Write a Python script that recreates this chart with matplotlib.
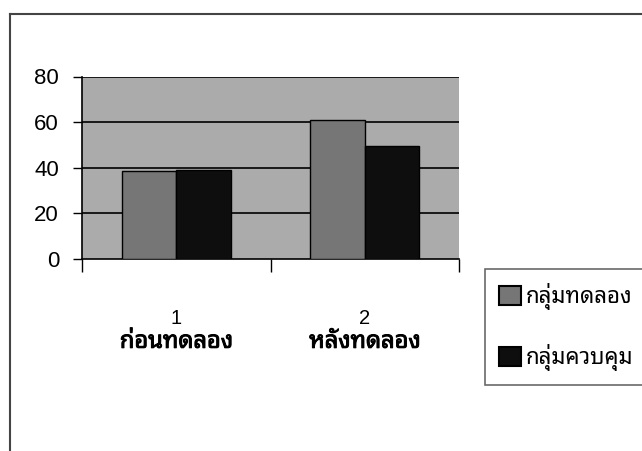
import matplotlib
matplotlib.use("Agg")
import numpy as np
import matplotlib.pyplot as plt
import matplotlib.patheffects as pe
from matplotlib.lines import Line2D
from matplotlib.patches import Patch

# data
categories = ["1", "2"]
category_names = ["ก่อนทดลอง", "หลังทดลอง"]
series_names = ["กลุ่มทดลอง", "กลุ่มควบคุม"]
experiment = [38.5, 61]
control = [39, 49.5]
yticks = [0, 20, 40, 60, 80]

plt.rcParams['font.family'] = ['Liberation Sans', 'Noto Sans Thai Looped', 'DejaVu Sans']

fig = plt.figure(figsize=(6.42, 4.51), dpi=100)
fig.patch.set_facecolor("white")
ax = fig.add_axes([82/642, 1 - 259/451, (459 - 82)/642, (259 - 76.5)/451])
ax.set_facecolor("#ababab")

x = np.arange(len(categories))
w = 0.29
ax.bar(x - w/2, experiment, w, color="#767676", edgecolor="black", linewidth=1, zorder=3)
ax.bar(x + w/2, control, w, color="#0e0e0e", edgecolor="black", linewidth=1, zorder=3)

ax.set_xlim(-0.5, 1.5)
ax.set_ylim(0, 80)
ax.set_yticks(yticks)
ax.tick_params(axis="y", direction="out", length=6.5, width=1, pad=10, labelsize=16)
for v in yticks[1:]:
    ax.axhline(v, color="black", lw=1.2, zorder=2)

# category boundary ticks below the axis
ax.set_xticks([-0.5, 0.5, 1.5])
ax.set_xticklabels([])
ax.tick_params(axis="x", direction="out", length=9, width=1)
for i in range(len(categories)):
    ax.annotate(categories[i], xy=(x[i], 0), xycoords=("data", "axes fraction"),
                xytext=(0, -36), textcoords="offset points", ha="center", va="top",
                fontsize=14.5)
    ax.annotate(category_names[i], xy=(x[i], 0), xycoords=("data", "axes fraction"),
                xytext=(0, -51), textcoords="offset points", ha="center", va="top",
                fontsize=17, fontweight="bold",
                path_effects=[pe.withStroke(linewidth=0.7, foreground="black")])

ax.spines["right"].set_visible(False)
ax.spines["top"].set_visible(False)
ax.spines["left"].set_linewidth(1.2)
ax.spines["bottom"].set_linewidth(1.2)

# outer chart frame (clipped at right and bottom in the scan)
fig.add_artist(Line2D([10/642, 1.0], [1 - 14/451, 1 - 14/451], color="#444444", lw=1.5))
fig.add_artist(Line2D([10/642, 10/642], [0.0, 1 - 14/451], color="#444444", lw=1.5))

handles = [Patch(facecolor="#767676", edgecolor="black", linewidth=1.5),
           Patch(facecolor="#0e0e0e", edgecolor="black", linewidth=1.5)]
leg = fig.legend(handles, series_names, loc="upper left",
                 bbox_to_anchor=(485/642, 1 - 269/451), fontsize=16,
                 frameon=True, fancybox=False, edgecolor="#444444",
                 handlelength=0.95, handleheight=0.95, handletextpad=0.25,
                 labelspacing=1.5, borderpad=0.65, borderaxespad=0)
leg.get_frame().set_linewidth(1.2)

fig.savefig("out.png", dpi=100)
